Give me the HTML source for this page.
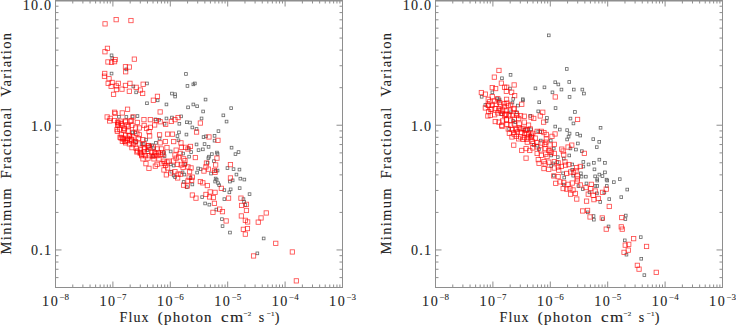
<!DOCTYPE html>
<html><head><meta charset="utf-8"><style>
html,body{margin:0;padding:0;background:#fff;}
svg{display:block;}
.tl{font-family:"Liberation Serif",serif;font-size:14.1px;fill:#222;stroke:#222;stroke-width:0.08px;}
.sp{font-size:9px;letter-spacing:0.3px;}
.tt{font-family:"Liberation Serif",serif;font-size:14px;fill:#222;letter-spacing:1.1px;stroke:#222;stroke-width:0.12px;}
.yt text{font-size:14.6px;letter-spacing:1.3px;stroke-width:0.1px;}
.yl{letter-spacing:1.2px;}
.sp2{font-size:7px;letter-spacing:0;}
</style></head><body>
<svg width="736" height="325" viewBox="0 0 736 325">
<rect x="55.5" y="0.5" width="287.0" height="287.0" fill="none" stroke="#8e8e8e" stroke-width="1"/>
<line x1="55.5" y1="0.7" x2="342.5" y2="0.7" stroke="#8e8e8e" stroke-width="1.4"/>
<line x1="55.50" y1="287.5" x2="55.50" y2="281.5" stroke="#8e8e8e"/>
<line x1="55.50" y1="0.5" x2="55.50" y2="6.5" stroke="#8e8e8e"/>
<line x1="72.78" y1="287.5" x2="72.78" y2="284.5" stroke="#8e8e8e"/>
<line x1="72.78" y1="0.5" x2="72.78" y2="3.5" stroke="#8e8e8e"/>
<line x1="82.89" y1="287.5" x2="82.89" y2="284.5" stroke="#8e8e8e"/>
<line x1="82.89" y1="0.5" x2="82.89" y2="3.5" stroke="#8e8e8e"/>
<line x1="90.06" y1="287.5" x2="90.06" y2="284.5" stroke="#8e8e8e"/>
<line x1="90.06" y1="0.5" x2="90.06" y2="3.5" stroke="#8e8e8e"/>
<line x1="95.62" y1="287.5" x2="95.62" y2="284.5" stroke="#8e8e8e"/>
<line x1="95.62" y1="0.5" x2="95.62" y2="3.5" stroke="#8e8e8e"/>
<line x1="100.17" y1="287.5" x2="100.17" y2="284.5" stroke="#8e8e8e"/>
<line x1="100.17" y1="0.5" x2="100.17" y2="3.5" stroke="#8e8e8e"/>
<line x1="104.01" y1="287.5" x2="104.01" y2="284.5" stroke="#8e8e8e"/>
<line x1="104.01" y1="0.5" x2="104.01" y2="3.5" stroke="#8e8e8e"/>
<line x1="107.34" y1="287.5" x2="107.34" y2="284.5" stroke="#8e8e8e"/>
<line x1="107.34" y1="0.5" x2="107.34" y2="3.5" stroke="#8e8e8e"/>
<line x1="110.27" y1="287.5" x2="110.27" y2="284.5" stroke="#8e8e8e"/>
<line x1="110.27" y1="0.5" x2="110.27" y2="3.5" stroke="#8e8e8e"/>
<line x1="112.90" y1="287.5" x2="112.90" y2="281.5" stroke="#8e8e8e"/>
<line x1="112.90" y1="0.5" x2="112.90" y2="6.5" stroke="#8e8e8e"/>
<line x1="130.18" y1="287.5" x2="130.18" y2="284.5" stroke="#8e8e8e"/>
<line x1="130.18" y1="0.5" x2="130.18" y2="3.5" stroke="#8e8e8e"/>
<line x1="140.29" y1="287.5" x2="140.29" y2="284.5" stroke="#8e8e8e"/>
<line x1="140.29" y1="0.5" x2="140.29" y2="3.5" stroke="#8e8e8e"/>
<line x1="147.46" y1="287.5" x2="147.46" y2="284.5" stroke="#8e8e8e"/>
<line x1="147.46" y1="0.5" x2="147.46" y2="3.5" stroke="#8e8e8e"/>
<line x1="153.02" y1="287.5" x2="153.02" y2="284.5" stroke="#8e8e8e"/>
<line x1="153.02" y1="0.5" x2="153.02" y2="3.5" stroke="#8e8e8e"/>
<line x1="157.57" y1="287.5" x2="157.57" y2="284.5" stroke="#8e8e8e"/>
<line x1="157.57" y1="0.5" x2="157.57" y2="3.5" stroke="#8e8e8e"/>
<line x1="161.41" y1="287.5" x2="161.41" y2="284.5" stroke="#8e8e8e"/>
<line x1="161.41" y1="0.5" x2="161.41" y2="3.5" stroke="#8e8e8e"/>
<line x1="164.74" y1="287.5" x2="164.74" y2="284.5" stroke="#8e8e8e"/>
<line x1="164.74" y1="0.5" x2="164.74" y2="3.5" stroke="#8e8e8e"/>
<line x1="167.67" y1="287.5" x2="167.67" y2="284.5" stroke="#8e8e8e"/>
<line x1="167.67" y1="0.5" x2="167.67" y2="3.5" stroke="#8e8e8e"/>
<line x1="170.30" y1="287.5" x2="170.30" y2="281.5" stroke="#8e8e8e"/>
<line x1="170.30" y1="0.5" x2="170.30" y2="6.5" stroke="#8e8e8e"/>
<line x1="187.58" y1="287.5" x2="187.58" y2="284.5" stroke="#8e8e8e"/>
<line x1="187.58" y1="0.5" x2="187.58" y2="3.5" stroke="#8e8e8e"/>
<line x1="197.69" y1="287.5" x2="197.69" y2="284.5" stroke="#8e8e8e"/>
<line x1="197.69" y1="0.5" x2="197.69" y2="3.5" stroke="#8e8e8e"/>
<line x1="204.86" y1="287.5" x2="204.86" y2="284.5" stroke="#8e8e8e"/>
<line x1="204.86" y1="0.5" x2="204.86" y2="3.5" stroke="#8e8e8e"/>
<line x1="210.42" y1="287.5" x2="210.42" y2="284.5" stroke="#8e8e8e"/>
<line x1="210.42" y1="0.5" x2="210.42" y2="3.5" stroke="#8e8e8e"/>
<line x1="214.97" y1="287.5" x2="214.97" y2="284.5" stroke="#8e8e8e"/>
<line x1="214.97" y1="0.5" x2="214.97" y2="3.5" stroke="#8e8e8e"/>
<line x1="218.81" y1="287.5" x2="218.81" y2="284.5" stroke="#8e8e8e"/>
<line x1="218.81" y1="0.5" x2="218.81" y2="3.5" stroke="#8e8e8e"/>
<line x1="222.14" y1="287.5" x2="222.14" y2="284.5" stroke="#8e8e8e"/>
<line x1="222.14" y1="0.5" x2="222.14" y2="3.5" stroke="#8e8e8e"/>
<line x1="225.07" y1="287.5" x2="225.07" y2="284.5" stroke="#8e8e8e"/>
<line x1="225.07" y1="0.5" x2="225.07" y2="3.5" stroke="#8e8e8e"/>
<line x1="227.70" y1="287.5" x2="227.70" y2="281.5" stroke="#8e8e8e"/>
<line x1="227.70" y1="0.5" x2="227.70" y2="6.5" stroke="#8e8e8e"/>
<line x1="244.98" y1="287.5" x2="244.98" y2="284.5" stroke="#8e8e8e"/>
<line x1="244.98" y1="0.5" x2="244.98" y2="3.5" stroke="#8e8e8e"/>
<line x1="255.09" y1="287.5" x2="255.09" y2="284.5" stroke="#8e8e8e"/>
<line x1="255.09" y1="0.5" x2="255.09" y2="3.5" stroke="#8e8e8e"/>
<line x1="262.26" y1="287.5" x2="262.26" y2="284.5" stroke="#8e8e8e"/>
<line x1="262.26" y1="0.5" x2="262.26" y2="3.5" stroke="#8e8e8e"/>
<line x1="267.82" y1="287.5" x2="267.82" y2="284.5" stroke="#8e8e8e"/>
<line x1="267.82" y1="0.5" x2="267.82" y2="3.5" stroke="#8e8e8e"/>
<line x1="272.37" y1="287.5" x2="272.37" y2="284.5" stroke="#8e8e8e"/>
<line x1="272.37" y1="0.5" x2="272.37" y2="3.5" stroke="#8e8e8e"/>
<line x1="276.21" y1="287.5" x2="276.21" y2="284.5" stroke="#8e8e8e"/>
<line x1="276.21" y1="0.5" x2="276.21" y2="3.5" stroke="#8e8e8e"/>
<line x1="279.54" y1="287.5" x2="279.54" y2="284.5" stroke="#8e8e8e"/>
<line x1="279.54" y1="0.5" x2="279.54" y2="3.5" stroke="#8e8e8e"/>
<line x1="282.47" y1="287.5" x2="282.47" y2="284.5" stroke="#8e8e8e"/>
<line x1="282.47" y1="0.5" x2="282.47" y2="3.5" stroke="#8e8e8e"/>
<line x1="285.10" y1="287.5" x2="285.10" y2="281.5" stroke="#8e8e8e"/>
<line x1="285.10" y1="0.5" x2="285.10" y2="6.5" stroke="#8e8e8e"/>
<line x1="302.38" y1="287.5" x2="302.38" y2="284.5" stroke="#8e8e8e"/>
<line x1="302.38" y1="0.5" x2="302.38" y2="3.5" stroke="#8e8e8e"/>
<line x1="312.49" y1="287.5" x2="312.49" y2="284.5" stroke="#8e8e8e"/>
<line x1="312.49" y1="0.5" x2="312.49" y2="3.5" stroke="#8e8e8e"/>
<line x1="319.66" y1="287.5" x2="319.66" y2="284.5" stroke="#8e8e8e"/>
<line x1="319.66" y1="0.5" x2="319.66" y2="3.5" stroke="#8e8e8e"/>
<line x1="325.22" y1="287.5" x2="325.22" y2="284.5" stroke="#8e8e8e"/>
<line x1="325.22" y1="0.5" x2="325.22" y2="3.5" stroke="#8e8e8e"/>
<line x1="329.77" y1="287.5" x2="329.77" y2="284.5" stroke="#8e8e8e"/>
<line x1="329.77" y1="0.5" x2="329.77" y2="3.5" stroke="#8e8e8e"/>
<line x1="333.61" y1="287.5" x2="333.61" y2="284.5" stroke="#8e8e8e"/>
<line x1="333.61" y1="0.5" x2="333.61" y2="3.5" stroke="#8e8e8e"/>
<line x1="336.94" y1="287.5" x2="336.94" y2="284.5" stroke="#8e8e8e"/>
<line x1="336.94" y1="0.5" x2="336.94" y2="3.5" stroke="#8e8e8e"/>
<line x1="339.87" y1="287.5" x2="339.87" y2="284.5" stroke="#8e8e8e"/>
<line x1="339.87" y1="0.5" x2="339.87" y2="3.5" stroke="#8e8e8e"/>
<line x1="55.5" y1="287.50" x2="58.5" y2="287.50" stroke="#8e8e8e"/>
<line x1="342.5" y1="287.50" x2="339.5" y2="287.50" stroke="#8e8e8e"/>
<line x1="55.5" y1="277.62" x2="58.5" y2="277.62" stroke="#8e8e8e"/>
<line x1="342.5" y1="277.62" x2="339.5" y2="277.62" stroke="#8e8e8e"/>
<line x1="55.5" y1="269.27" x2="58.5" y2="269.27" stroke="#8e8e8e"/>
<line x1="342.5" y1="269.27" x2="339.5" y2="269.27" stroke="#8e8e8e"/>
<line x1="55.5" y1="262.04" x2="58.5" y2="262.04" stroke="#8e8e8e"/>
<line x1="342.5" y1="262.04" x2="339.5" y2="262.04" stroke="#8e8e8e"/>
<line x1="55.5" y1="255.66" x2="58.5" y2="255.66" stroke="#8e8e8e"/>
<line x1="342.5" y1="255.66" x2="339.5" y2="255.66" stroke="#8e8e8e"/>
<line x1="55.5" y1="249.95" x2="61.5" y2="249.95" stroke="#8e8e8e"/>
<line x1="342.5" y1="249.95" x2="336.5" y2="249.95" stroke="#8e8e8e"/>
<line x1="55.5" y1="212.41" x2="58.5" y2="212.41" stroke="#8e8e8e"/>
<line x1="342.5" y1="212.41" x2="339.5" y2="212.41" stroke="#8e8e8e"/>
<line x1="55.5" y1="190.44" x2="58.5" y2="190.44" stroke="#8e8e8e"/>
<line x1="342.5" y1="190.44" x2="339.5" y2="190.44" stroke="#8e8e8e"/>
<line x1="55.5" y1="174.86" x2="58.5" y2="174.86" stroke="#8e8e8e"/>
<line x1="342.5" y1="174.86" x2="339.5" y2="174.86" stroke="#8e8e8e"/>
<line x1="55.5" y1="162.77" x2="58.5" y2="162.77" stroke="#8e8e8e"/>
<line x1="342.5" y1="162.77" x2="339.5" y2="162.77" stroke="#8e8e8e"/>
<line x1="55.5" y1="152.90" x2="58.5" y2="152.90" stroke="#8e8e8e"/>
<line x1="342.5" y1="152.90" x2="339.5" y2="152.90" stroke="#8e8e8e"/>
<line x1="55.5" y1="144.55" x2="58.5" y2="144.55" stroke="#8e8e8e"/>
<line x1="342.5" y1="144.55" x2="339.5" y2="144.55" stroke="#8e8e8e"/>
<line x1="55.5" y1="137.31" x2="58.5" y2="137.31" stroke="#8e8e8e"/>
<line x1="342.5" y1="137.31" x2="339.5" y2="137.31" stroke="#8e8e8e"/>
<line x1="55.5" y1="130.93" x2="58.5" y2="130.93" stroke="#8e8e8e"/>
<line x1="342.5" y1="130.93" x2="339.5" y2="130.93" stroke="#8e8e8e"/>
<line x1="55.5" y1="125.23" x2="61.5" y2="125.23" stroke="#8e8e8e"/>
<line x1="342.5" y1="125.23" x2="336.5" y2="125.23" stroke="#8e8e8e"/>
<line x1="55.5" y1="87.68" x2="58.5" y2="87.68" stroke="#8e8e8e"/>
<line x1="342.5" y1="87.68" x2="339.5" y2="87.68" stroke="#8e8e8e"/>
<line x1="55.5" y1="65.72" x2="58.5" y2="65.72" stroke="#8e8e8e"/>
<line x1="342.5" y1="65.72" x2="339.5" y2="65.72" stroke="#8e8e8e"/>
<line x1="55.5" y1="50.13" x2="58.5" y2="50.13" stroke="#8e8e8e"/>
<line x1="342.5" y1="50.13" x2="339.5" y2="50.13" stroke="#8e8e8e"/>
<line x1="55.5" y1="38.05" x2="58.5" y2="38.05" stroke="#8e8e8e"/>
<line x1="342.5" y1="38.05" x2="339.5" y2="38.05" stroke="#8e8e8e"/>
<line x1="55.5" y1="28.17" x2="58.5" y2="28.17" stroke="#8e8e8e"/>
<line x1="342.5" y1="28.17" x2="339.5" y2="28.17" stroke="#8e8e8e"/>
<line x1="55.5" y1="19.82" x2="58.5" y2="19.82" stroke="#8e8e8e"/>
<line x1="342.5" y1="19.82" x2="339.5" y2="19.82" stroke="#8e8e8e"/>
<line x1="55.5" y1="12.59" x2="58.5" y2="12.59" stroke="#8e8e8e"/>
<line x1="342.5" y1="12.59" x2="339.5" y2="12.59" stroke="#8e8e8e"/>
<line x1="55.5" y1="6.21" x2="58.5" y2="6.21" stroke="#8e8e8e"/>
<line x1="342.5" y1="6.21" x2="339.5" y2="6.21" stroke="#8e8e8e"/>
<line x1="55.5" y1="0.50" x2="61.5" y2="0.50" stroke="#8e8e8e"/>
<line x1="342.5" y1="0.50" x2="336.5" y2="0.50" stroke="#8e8e8e"/>
<text x="42.1" y="305.8" class="tl"><tspan letter-spacing="1.5">10</tspan><tspan class="sp" dy="-6">&#8722;8</tspan></text>
<text x="99.5" y="305.8" class="tl"><tspan letter-spacing="1.5">10</tspan><tspan class="sp" dy="-6">&#8722;7</tspan></text>
<text x="156.9" y="305.8" class="tl"><tspan letter-spacing="1.5">10</tspan><tspan class="sp" dy="-6">&#8722;6</tspan></text>
<text x="214.3" y="305.8" class="tl"><tspan letter-spacing="1.5">10</tspan><tspan class="sp" dy="-6">&#8722;5</tspan></text>
<text x="271.7" y="305.8" class="tl"><tspan letter-spacing="1.5">10</tspan><tspan class="sp" dy="-6">&#8722;4</tspan></text>
<text x="329.1" y="305.8" class="tl"><tspan letter-spacing="1.5">10</tspan><tspan class="sp" dy="-6">&#8722;3</tspan></text>
<text x="52.2" y="10.0" class="tl yl" text-anchor="end">10.0</text>
<text x="52.2" y="130.6" class="tl yl" text-anchor="end">1.0</text>
<text x="52.2" y="255.4" class="tl yl" text-anchor="end">0.1</text>
<g class="tt"><text x="119.5" y="322">Flux</text><text x="157.8" y="322" textLength="55" lengthAdjust="spacingAndGlyphs">(photon</text><text x="221.1" y="322" textLength="23.5" lengthAdjust="spacingAndGlyphs">cm</text><text class="sp2" x="243.8" y="316.3">&#8722;2</text><text x="258.8" y="322">s</text><text class="sp2" x="267.0" y="316.3">&#8722;1</text><text x="274.8" y="322">)</text></g>
<g transform="translate(10.5,254.5) rotate(-90)" class="tt yt"><text x="0">Minimum</text><text x="76">Fractional</text><text x="157.7">Variation</text></g>
<g fill="none" stroke="#666" stroke-width="0.8"><rect x="110.2" y="54.0" width="2.7" height="2.7"/><rect x="110.9" y="56.9" width="2.7" height="2.7"/><rect x="125.0" y="68.0" width="2.7" height="2.7"/><rect x="110.2" y="72.2" width="2.7" height="2.7"/><rect x="184.6" y="72.6" width="2.7" height="2.7"/><rect x="145.6" y="82.1" width="2.7" height="2.7"/><rect x="132.0" y="85.1" width="2.7" height="2.7"/><rect x="134.8" y="91.0" width="2.7" height="2.7"/><rect x="156.3" y="99.0" width="2.7" height="2.7"/><rect x="145.6" y="101.9" width="2.7" height="2.7"/><rect x="165.1" y="103.1" width="2.7" height="2.7"/><rect x="170.6" y="92.2" width="2.7" height="2.7"/><rect x="173.7" y="92.9" width="2.7" height="2.7"/><rect x="173.8" y="95.2" width="2.7" height="2.7"/><rect x="117.6" y="115.4" width="2.7" height="2.7"/><rect x="125.0" y="115.6" width="2.7" height="2.7"/><rect x="131.2" y="115.2" width="2.7" height="2.7"/><rect x="136.1" y="114.7" width="2.7" height="2.7"/><rect x="154.0" y="118.1" width="2.7" height="2.7"/><rect x="157.7" y="118.4" width="2.7" height="2.7"/><rect x="165.1" y="117.1" width="2.7" height="2.7"/><rect x="170.6" y="116.2" width="2.7" height="2.7"/><rect x="186.1" y="84.6" width="2.7" height="2.7"/><rect x="192.0" y="83.0" width="2.7" height="2.7"/><rect x="193.5" y="82.1" width="2.7" height="2.7"/><rect x="204.2" y="98.2" width="2.7" height="2.7"/><rect x="192.0" y="103.1" width="2.7" height="2.7"/><rect x="195.8" y="104.9" width="2.7" height="2.7"/><rect x="186.7" y="106.0" width="2.7" height="2.7"/><rect x="201.8" y="110.1" width="2.7" height="2.7"/><rect x="229.8" y="106.8" width="2.7" height="2.7"/><rect x="222.0" y="114.0" width="2.7" height="2.7"/><rect x="200.2" y="117.1" width="2.7" height="2.7"/><rect x="179.8" y="115.0" width="2.7" height="2.7"/><rect x="163.2" y="122.4" width="2.7" height="2.7"/><rect x="178.0" y="122.4" width="2.7" height="2.7"/><rect x="131.2" y="131.0" width="2.7" height="2.7"/><rect x="133.7" y="131.0" width="2.7" height="2.7"/><rect x="144.7" y="138.3" width="2.7" height="2.7"/><rect x="158.2" y="137.2" width="2.7" height="2.7"/><rect x="154.6" y="141.5" width="2.7" height="2.7"/><rect x="150.8" y="143.8" width="2.7" height="2.7"/><rect x="149.0" y="144.6" width="2.7" height="2.7"/><rect x="134.8" y="140.8" width="2.7" height="2.7"/><rect x="140.3" y="142.7" width="2.7" height="2.7"/><rect x="142.2" y="142.7" width="2.7" height="2.7"/><rect x="146.0" y="148.8" width="2.7" height="2.7"/><rect x="152.7" y="147.0" width="2.7" height="2.7"/><rect x="162.6" y="151.0" width="2.7" height="2.7"/><rect x="169.3" y="150.1" width="2.7" height="2.7"/><rect x="163.2" y="154.7" width="2.7" height="2.7"/><rect x="151.5" y="154.7" width="2.7" height="2.7"/><rect x="176.1" y="134.7" width="2.7" height="2.7"/><rect x="177.1" y="139.0" width="2.7" height="2.7"/><rect x="177.6" y="131.0" width="2.7" height="2.7"/><rect x="185.5" y="120.9" width="2.7" height="2.7"/><rect x="188.6" y="121.2" width="2.7" height="2.7"/><rect x="225.2" y="120.2" width="2.7" height="2.7"/><rect x="191.0" y="126.1" width="2.7" height="2.7"/><rect x="195.2" y="127.6" width="2.7" height="2.7"/><rect x="185.1" y="133.2" width="2.7" height="2.7"/><rect x="217.1" y="129.8" width="2.7" height="2.7"/><rect x="202.2" y="135.7" width="2.7" height="2.7"/><rect x="204.6" y="135.0" width="2.7" height="2.7"/><rect x="213.2" y="134.5" width="2.7" height="2.7"/><rect x="213.2" y="139.3" width="2.7" height="2.7"/><rect x="195.2" y="143.1" width="2.7" height="2.7"/><rect x="203.2" y="142.7" width="2.7" height="2.7"/><rect x="207.2" y="145.5" width="2.7" height="2.7"/><rect x="201.5" y="148.0" width="2.7" height="2.7"/><rect x="197.2" y="148.8" width="2.7" height="2.7"/><rect x="187.2" y="147.0" width="2.7" height="2.7"/><rect x="189.8" y="150.7" width="2.7" height="2.7"/><rect x="181.8" y="152.2" width="2.7" height="2.7"/><rect x="187.8" y="155.3" width="2.7" height="2.7"/><rect x="210.5" y="152.8" width="2.7" height="2.7"/><rect x="207.6" y="155.3" width="2.7" height="2.7"/><rect x="207.0" y="156.8" width="2.7" height="2.7"/><rect x="215.6" y="151.2" width="2.7" height="2.7"/><rect x="216.2" y="152.6" width="2.7" height="2.7"/><rect x="230.2" y="146.3" width="2.7" height="2.7"/><rect x="234.1" y="152.8" width="2.7" height="2.7"/><rect x="237.2" y="150.7" width="2.7" height="2.7"/><rect x="169.3" y="163.0" width="2.7" height="2.7"/><rect x="172.3" y="164.2" width="2.7" height="2.7"/><rect x="170.0" y="170.3" width="2.7" height="2.7"/><rect x="172.3" y="174.1" width="2.7" height="2.7"/><rect x="173.7" y="175.8" width="2.7" height="2.7"/><rect x="212.6" y="159.8" width="2.7" height="2.7"/><rect x="206.3" y="161.3" width="2.7" height="2.7"/><rect x="184.2" y="163.0" width="2.7" height="2.7"/><rect x="196.8" y="167.1" width="2.7" height="2.7"/><rect x="199.3" y="167.8" width="2.7" height="2.7"/><rect x="195.8" y="171.2" width="2.7" height="2.7"/><rect x="181.2" y="171.0" width="2.7" height="2.7"/><rect x="183.0" y="173.2" width="2.7" height="2.7"/><rect x="209.7" y="172.2" width="2.7" height="2.7"/><rect x="214.3" y="169.5" width="2.7" height="2.7"/><rect x="216.2" y="169.2" width="2.7" height="2.7"/><rect x="226.1" y="166.7" width="2.7" height="2.7"/><rect x="232.2" y="167.8" width="2.7" height="2.7"/><rect x="238.1" y="168.2" width="2.7" height="2.7"/><rect x="235.1" y="173.2" width="2.7" height="2.7"/><rect x="239.0" y="177.3" width="2.7" height="2.7"/><rect x="243.0" y="178.2" width="2.7" height="2.7"/><rect x="228.6" y="180.2" width="2.7" height="2.7"/><rect x="231.3" y="179.0" width="2.7" height="2.7"/><rect x="214.3" y="177.2" width="2.7" height="2.7"/><rect x="215.3" y="178.3" width="2.7" height="2.7"/><rect x="213.8" y="180.2" width="2.7" height="2.7"/><rect x="216.8" y="181.8" width="2.7" height="2.7"/><rect x="217.8" y="183.8" width="2.7" height="2.7"/><rect x="189.2" y="176.6" width="2.7" height="2.7"/><rect x="182.3" y="180.6" width="2.7" height="2.7"/><rect x="191.0" y="183.1" width="2.7" height="2.7"/><rect x="185.5" y="185.8" width="2.7" height="2.7"/><rect x="223.0" y="188.8" width="2.7" height="2.7"/><rect x="229.3" y="188.0" width="2.7" height="2.7"/><rect x="228.0" y="191.0" width="2.7" height="2.7"/><rect x="238.3" y="186.8" width="2.7" height="2.7"/><rect x="248.2" y="192.8" width="2.7" height="2.7"/><rect x="200.8" y="195.8" width="2.7" height="2.7"/><rect x="223.0" y="197.8" width="2.7" height="2.7"/><rect x="242.1" y="197.8" width="2.7" height="2.7"/><rect x="203.8" y="202.1" width="2.7" height="2.7"/><rect x="208.0" y="203.3" width="2.7" height="2.7"/><rect x="215.0" y="208.2" width="2.7" height="2.7"/><rect x="242.7" y="200.5" width="2.7" height="2.7"/><rect x="244.0" y="203.6" width="2.7" height="2.7"/><rect x="220.6" y="217.8" width="2.7" height="2.7"/><rect x="221.2" y="224.8" width="2.7" height="2.7"/><rect x="228.6" y="231.2" width="2.7" height="2.7"/><rect x="262.3" y="237.1" width="2.7" height="2.7"/><rect x="256.0" y="252.0" width="2.7" height="2.7"/></g>
<g fill="none" stroke="#ff0000" stroke-opacity="0.7" stroke-width="0.85"><rect x="102.9" y="21.7" width="4.3" height="4.3"/><rect x="114.0" y="17.5" width="4.3" height="4.3"/><rect x="128.8" y="18.4" width="4.3" height="4.3"/><rect x="105.3" y="46.2" width="4.3" height="4.3"/><rect x="102.8" y="49.6" width="4.3" height="4.3"/><rect x="105.8" y="59.8" width="4.3" height="4.3"/><rect x="109.4" y="60.2" width="4.3" height="4.3"/><rect x="113.0" y="57.4" width="4.3" height="4.3"/><rect x="112.4" y="59.5" width="4.3" height="4.3"/><rect x="132.2" y="57.0" width="4.3" height="4.3"/><rect x="123.3" y="64.6" width="4.3" height="4.3"/><rect x="127.2" y="64.9" width="4.3" height="4.3"/><rect x="123.5" y="69.6" width="4.3" height="4.3"/><rect x="102.6" y="71.3" width="4.3" height="4.3"/><rect x="102.3" y="74.1" width="4.3" height="4.3"/><rect x="106.9" y="76.6" width="4.3" height="4.3"/><rect x="106.0" y="81.2" width="4.3" height="4.3"/><rect x="110.0" y="80.3" width="4.3" height="4.3"/><rect x="116.1" y="81.2" width="4.3" height="4.3"/><rect x="109.0" y="84.2" width="4.3" height="4.3"/><rect x="114.3" y="83.8" width="4.3" height="4.3"/><rect x="114.3" y="87.4" width="4.3" height="4.3"/><rect x="119.8" y="87.0" width="4.3" height="4.3"/><rect x="123.3" y="83.3" width="4.3" height="4.3"/><rect x="127.8" y="81.2" width="4.3" height="4.3"/><rect x="134.0" y="85.2" width="4.3" height="4.3"/><rect x="141.0" y="82.1" width="4.3" height="4.3"/><rect x="138.3" y="87.9" width="4.3" height="4.3"/><rect x="140.5" y="91.3" width="4.3" height="4.3"/><rect x="127.2" y="89.1" width="4.3" height="4.3"/><rect x="111.4" y="92.2" width="4.3" height="4.3"/><rect x="151.2" y="98.1" width="4.3" height="4.3"/><rect x="155.3" y="94.2" width="4.3" height="4.3"/><rect x="158.0" y="109.8" width="4.3" height="4.3"/><rect x="125.4" y="107.1" width="4.3" height="4.3"/><rect x="120.1" y="110.8" width="4.3" height="4.3"/><rect x="112.4" y="110.1" width="4.3" height="4.3"/><rect x="113.0" y="111.3" width="4.3" height="4.3"/><rect x="105.0" y="114.8" width="4.3" height="4.3"/><rect x="108.1" y="116.2" width="4.3" height="4.3"/><rect x="130.9" y="114.8" width="4.3" height="4.3"/><rect x="141.8" y="117.5" width="4.3" height="4.3"/><rect x="148.2" y="117.5" width="4.3" height="4.3"/><rect x="175.9" y="115.4" width="4.3" height="4.3"/><rect x="172.8" y="117.5" width="4.3" height="4.3"/><rect x="107.5" y="118.8" width="4.3" height="4.3"/><rect x="112.4" y="118.4" width="4.3" height="4.3"/><rect x="118.0" y="119.0" width="4.3" height="4.3"/><rect x="123.5" y="118.8" width="4.3" height="4.3"/><rect x="129.2" y="118.4" width="4.3" height="4.3"/><rect x="135.2" y="120.3" width="4.3" height="4.3"/><rect x="154.3" y="118.4" width="4.3" height="4.3"/><rect x="158.0" y="119.6" width="4.3" height="4.3"/><rect x="163.5" y="122.1" width="4.3" height="4.3"/><rect x="169.2" y="119.3" width="4.3" height="4.3"/><rect x="115.5" y="122.8" width="4.3" height="4.3"/><rect x="119.8" y="123.3" width="4.3" height="4.3"/><rect x="124.8" y="122.8" width="4.3" height="4.3"/><rect x="129.8" y="123.3" width="4.3" height="4.3"/><rect x="133.4" y="125.8" width="4.3" height="4.3"/><rect x="137.2" y="125.8" width="4.3" height="4.3"/><rect x="142.0" y="123.3" width="4.3" height="4.3"/><rect x="144.5" y="126.2" width="4.3" height="4.3"/><rect x="148.2" y="125.2" width="4.3" height="4.3"/><rect x="152.5" y="122.8" width="4.3" height="4.3"/><rect x="117.4" y="127.0" width="4.3" height="4.3"/><rect x="121.8" y="128.3" width="4.3" height="4.3"/><rect x="126.0" y="128.9" width="4.3" height="4.3"/><rect x="130.3" y="130.2" width="4.3" height="4.3"/><rect x="134.7" y="131.3" width="4.3" height="4.3"/><rect x="137.2" y="132.7" width="4.3" height="4.3"/><rect x="146.9" y="129.5" width="4.3" height="4.3"/><rect x="147.5" y="133.8" width="4.3" height="4.3"/><rect x="157.4" y="132.7" width="4.3" height="4.3"/><rect x="165.4" y="132.0" width="4.3" height="4.3"/><rect x="170.3" y="132.0" width="4.3" height="4.3"/><rect x="119.2" y="132.7" width="4.3" height="4.3"/><rect x="123.5" y="133.2" width="4.3" height="4.3"/><rect x="127.2" y="133.8" width="4.3" height="4.3"/><rect x="130.9" y="135.0" width="4.3" height="4.3"/><rect x="136.4" y="136.3" width="4.3" height="4.3"/><rect x="140.8" y="137.5" width="4.3" height="4.3"/><rect x="121.1" y="136.9" width="4.3" height="4.3"/><rect x="125.4" y="138.2" width="4.3" height="4.3"/><rect x="129.2" y="138.8" width="4.3" height="4.3"/><rect x="133.4" y="139.4" width="4.3" height="4.3"/><rect x="123.5" y="140.7" width="4.3" height="4.3"/><rect x="127.2" y="141.8" width="4.3" height="4.3"/><rect x="130.9" y="142.4" width="4.3" height="4.3"/><rect x="137.2" y="141.8" width="4.3" height="4.3"/><rect x="142.0" y="141.8" width="4.3" height="4.3"/><rect x="145.8" y="143.8" width="4.3" height="4.3"/><rect x="158.0" y="140.7" width="4.3" height="4.3"/><rect x="163.2" y="139.4" width="4.3" height="4.3"/><rect x="171.5" y="139.4" width="4.3" height="4.3"/><rect x="129.8" y="145.5" width="4.3" height="4.3"/><rect x="134.0" y="146.2" width="4.3" height="4.3"/><rect x="138.3" y="147.4" width="4.3" height="4.3"/><rect x="142.0" y="146.8" width="4.3" height="4.3"/><rect x="146.9" y="145.5" width="4.3" height="4.3"/><rect x="151.2" y="144.9" width="4.3" height="4.3"/><rect x="154.9" y="146.8" width="4.3" height="4.3"/><rect x="159.2" y="146.8" width="4.3" height="4.3"/><rect x="164.8" y="145.5" width="4.3" height="4.3"/><rect x="134.7" y="149.8" width="4.3" height="4.3"/><rect x="138.3" y="150.4" width="4.3" height="4.3"/><rect x="142.0" y="149.8" width="4.3" height="4.3"/><rect x="145.8" y="149.2" width="4.3" height="4.3"/><rect x="149.4" y="150.4" width="4.3" height="4.3"/><rect x="152.5" y="150.4" width="4.3" height="4.3"/><rect x="156.2" y="150.4" width="4.3" height="4.3"/><rect x="160.5" y="150.4" width="4.3" height="4.3"/><rect x="174.0" y="148.0" width="4.3" height="4.3"/><rect x="139.5" y="153.5" width="4.3" height="4.3"/><rect x="143.2" y="153.5" width="4.3" height="4.3"/><rect x="146.9" y="153.5" width="4.3" height="4.3"/><rect x="150.7" y="154.2" width="4.3" height="4.3"/><rect x="154.9" y="153.5" width="4.3" height="4.3"/><rect x="158.0" y="152.9" width="4.3" height="4.3"/><rect x="140.8" y="156.7" width="4.3" height="4.3"/><rect x="145.8" y="156.0" width="4.3" height="4.3"/><rect x="151.8" y="156.7" width="4.3" height="4.3"/><rect x="156.8" y="156.7" width="4.3" height="4.3"/><rect x="172.8" y="152.9" width="4.3" height="4.3"/><rect x="174.0" y="156.0" width="4.3" height="4.3"/><rect x="176.5" y="154.8" width="4.3" height="4.3"/><rect x="198.2" y="120.9" width="4.3" height="4.3"/><rect x="194.4" y="129.9" width="4.3" height="4.3"/><rect x="206.8" y="134.8" width="4.3" height="4.3"/><rect x="215.8" y="138.2" width="4.3" height="4.3"/><rect x="178.8" y="140.7" width="4.3" height="4.3"/><rect x="179.3" y="145.2" width="4.3" height="4.3"/><rect x="183.3" y="145.2" width="4.3" height="4.3"/><rect x="188.3" y="144.3" width="4.3" height="4.3"/><rect x="185.8" y="146.8" width="4.3" height="4.3"/><rect x="178.0" y="151.2" width="4.3" height="4.3"/><rect x="181.5" y="156.7" width="4.3" height="4.3"/><rect x="193.2" y="155.4" width="4.3" height="4.3"/><rect x="214.8" y="156.0" width="4.3" height="4.3"/><rect x="143.8" y="161.5" width="4.3" height="4.3"/><rect x="146.8" y="166.2" width="4.3" height="4.3"/><rect x="153.2" y="164.0" width="4.3" height="4.3"/><rect x="154.9" y="162.2" width="4.3" height="4.3"/><rect x="159.8" y="161.5" width="4.3" height="4.3"/><rect x="163.5" y="163.3" width="4.3" height="4.3"/><rect x="161.8" y="167.8" width="4.3" height="4.3"/><rect x="165.4" y="165.8" width="4.3" height="4.3"/><rect x="164.2" y="172.7" width="4.3" height="4.3"/><rect x="168.5" y="170.8" width="4.3" height="4.3"/><rect x="172.8" y="169.5" width="4.3" height="4.3"/><rect x="175.9" y="172.0" width="4.3" height="4.3"/><rect x="175.5" y="175.8" width="4.3" height="4.3"/><rect x="175.2" y="162.2" width="4.3" height="4.3"/><rect x="171.5" y="158.8" width="4.3" height="4.3"/><rect x="166.7" y="159.0" width="4.3" height="4.3"/><rect x="161.8" y="159.0" width="4.3" height="4.3"/><rect x="182.8" y="158.4" width="4.3" height="4.3"/><rect x="179.0" y="162.8" width="4.3" height="4.3"/><rect x="182.2" y="162.2" width="4.3" height="4.3"/><rect x="180.9" y="165.2" width="4.3" height="4.3"/><rect x="178.4" y="172.0" width="4.3" height="4.3"/><rect x="185.8" y="164.7" width="4.3" height="4.3"/><rect x="188.9" y="165.8" width="4.3" height="4.3"/><rect x="187.4" y="169.5" width="4.3" height="4.3"/><rect x="204.3" y="160.9" width="4.3" height="4.3"/><rect x="203.8" y="164.7" width="4.3" height="4.3"/><rect x="206.2" y="167.0" width="4.3" height="4.3"/><rect x="201.8" y="168.9" width="4.3" height="4.3"/><rect x="213.5" y="162.8" width="4.3" height="4.3"/><rect x="212.3" y="168.3" width="4.3" height="4.3"/><rect x="212.9" y="170.2" width="4.3" height="4.3"/><rect x="228.3" y="162.5" width="4.3" height="4.3"/><rect x="228.3" y="175.8" width="4.3" height="4.3"/><rect x="190.2" y="175.0" width="4.3" height="4.3"/><rect x="187.0" y="175.0" width="4.3" height="4.3"/><rect x="185.8" y="178.8" width="4.3" height="4.3"/><rect x="189.5" y="178.2" width="4.3" height="4.3"/><rect x="198.2" y="179.4" width="4.3" height="4.3"/><rect x="200.7" y="180.7" width="4.3" height="4.3"/><rect x="205.2" y="183.4" width="4.3" height="4.3"/><rect x="181.5" y="183.0" width="4.3" height="4.3"/><rect x="185.2" y="183.8" width="4.3" height="4.3"/><rect x="219.2" y="186.2" width="4.3" height="4.3"/><rect x="190.2" y="192.9" width="4.3" height="4.3"/><rect x="193.8" y="196.0" width="4.3" height="4.3"/><rect x="203.8" y="192.3" width="4.3" height="4.3"/><rect x="208.0" y="189.8" width="4.3" height="4.3"/><rect x="212.9" y="190.2" width="4.3" height="4.3"/><rect x="207.4" y="194.8" width="4.3" height="4.3"/><rect x="211.2" y="195.4" width="4.3" height="4.3"/><rect x="226.4" y="196.0" width="4.3" height="4.3"/><rect x="238.8" y="196.0" width="4.3" height="4.3"/><rect x="212.3" y="201.2" width="4.3" height="4.3"/><rect x="239.4" y="203.3" width="4.3" height="4.3"/><rect x="244.3" y="202.2" width="4.3" height="4.3"/><rect x="244.3" y="208.3" width="4.3" height="4.3"/><rect x="210.8" y="210.2" width="4.3" height="4.3"/><rect x="217.5" y="207.0" width="4.3" height="4.3"/><rect x="220.3" y="209.5" width="4.3" height="4.3"/><rect x="224.0" y="218.8" width="4.3" height="4.3"/><rect x="239.2" y="213.8" width="4.3" height="4.3"/><rect x="243.2" y="218.2" width="4.3" height="4.3"/><rect x="245.5" y="219.8" width="4.3" height="4.3"/><rect x="241.2" y="227.2" width="4.3" height="4.3"/><rect x="245.3" y="226.4" width="4.3" height="4.3"/><rect x="243.2" y="232.0" width="4.3" height="4.3"/><rect x="264.1" y="210.8" width="4.3" height="4.3"/><rect x="258.9" y="215.8" width="4.3" height="4.3"/><rect x="256.1" y="220.0" width="4.3" height="4.3"/><rect x="273.6" y="241.2" width="4.3" height="4.3"/><rect x="251.4" y="253.8" width="4.3" height="4.3"/><rect x="290.2" y="249.8" width="4.3" height="4.3"/><rect x="294.2" y="278.7" width="4.3" height="4.3"/><rect x="118.9" y="121.4" width="4.3" height="4.3"/><rect x="123.4" y="119.8" width="4.3" height="4.3"/><rect x="121.8" y="126.0" width="4.3" height="4.3"/><rect x="115.2" y="129.2" width="4.3" height="4.3"/><rect x="114.9" y="127.5" width="4.3" height="4.3"/><rect x="115.4" y="120.1" width="4.3" height="4.3"/><rect x="120.3" y="136.0" width="4.3" height="4.3"/><rect x="116.1" y="122.9" width="4.3" height="4.3"/><rect x="123.1" y="138.8" width="4.3" height="4.3"/><rect x="122.4" y="126.8" width="4.3" height="4.3"/><rect x="128.0" y="119.1" width="4.3" height="4.3"/><rect x="126.3" y="124.4" width="4.3" height="4.3"/><rect x="116.4" y="120.8" width="4.3" height="4.3"/><rect x="118.8" y="135.8" width="4.3" height="4.3"/><rect x="120.2" y="139.2" width="4.3" height="4.3"/><rect x="128.8" y="136.9" width="4.3" height="4.3"/><rect x="127.0" y="133.5" width="4.3" height="4.3"/><rect x="117.9" y="135.2" width="4.3" height="4.3"/><rect x="129.5" y="137.5" width="4.3" height="4.3"/><rect x="122.8" y="139.2" width="4.3" height="4.3"/><rect x="125.3" y="136.2" width="4.3" height="4.3"/><rect x="131.8" y="140.5" width="4.3" height="4.3"/><rect x="135.4" y="148.8" width="4.3" height="4.3"/><rect x="139.7" y="152.3" width="4.3" height="4.3"/><rect x="142.7" y="145.4" width="4.3" height="4.3"/><rect x="146.3" y="143.4" width="4.3" height="4.3"/><rect x="138.0" y="150.9" width="4.3" height="4.3"/><rect x="153.8" y="151.7" width="4.3" height="4.3"/><rect x="152.5" y="153.2" width="4.3" height="4.3"/><rect x="160.7" y="152.3" width="4.3" height="4.3"/><rect x="164.9" y="159.9" width="4.3" height="4.3"/><rect x="162.2" y="161.2" width="4.3" height="4.3"/></g>
<rect x="435.5" y="0.5" width="287.0" height="287.0" fill="none" stroke="#8e8e8e" stroke-width="1"/>
<line x1="435.5" y1="0.7" x2="722.5" y2="0.7" stroke="#8e8e8e" stroke-width="1.4"/>
<line x1="435.50" y1="287.5" x2="435.50" y2="281.5" stroke="#8e8e8e"/>
<line x1="435.50" y1="0.5" x2="435.50" y2="6.5" stroke="#8e8e8e"/>
<line x1="452.78" y1="287.5" x2="452.78" y2="284.5" stroke="#8e8e8e"/>
<line x1="452.78" y1="0.5" x2="452.78" y2="3.5" stroke="#8e8e8e"/>
<line x1="462.89" y1="287.5" x2="462.89" y2="284.5" stroke="#8e8e8e"/>
<line x1="462.89" y1="0.5" x2="462.89" y2="3.5" stroke="#8e8e8e"/>
<line x1="470.06" y1="287.5" x2="470.06" y2="284.5" stroke="#8e8e8e"/>
<line x1="470.06" y1="0.5" x2="470.06" y2="3.5" stroke="#8e8e8e"/>
<line x1="475.62" y1="287.5" x2="475.62" y2="284.5" stroke="#8e8e8e"/>
<line x1="475.62" y1="0.5" x2="475.62" y2="3.5" stroke="#8e8e8e"/>
<line x1="480.17" y1="287.5" x2="480.17" y2="284.5" stroke="#8e8e8e"/>
<line x1="480.17" y1="0.5" x2="480.17" y2="3.5" stroke="#8e8e8e"/>
<line x1="484.01" y1="287.5" x2="484.01" y2="284.5" stroke="#8e8e8e"/>
<line x1="484.01" y1="0.5" x2="484.01" y2="3.5" stroke="#8e8e8e"/>
<line x1="487.34" y1="287.5" x2="487.34" y2="284.5" stroke="#8e8e8e"/>
<line x1="487.34" y1="0.5" x2="487.34" y2="3.5" stroke="#8e8e8e"/>
<line x1="490.27" y1="287.5" x2="490.27" y2="284.5" stroke="#8e8e8e"/>
<line x1="490.27" y1="0.5" x2="490.27" y2="3.5" stroke="#8e8e8e"/>
<line x1="492.90" y1="287.5" x2="492.90" y2="281.5" stroke="#8e8e8e"/>
<line x1="492.90" y1="0.5" x2="492.90" y2="6.5" stroke="#8e8e8e"/>
<line x1="510.18" y1="287.5" x2="510.18" y2="284.5" stroke="#8e8e8e"/>
<line x1="510.18" y1="0.5" x2="510.18" y2="3.5" stroke="#8e8e8e"/>
<line x1="520.29" y1="287.5" x2="520.29" y2="284.5" stroke="#8e8e8e"/>
<line x1="520.29" y1="0.5" x2="520.29" y2="3.5" stroke="#8e8e8e"/>
<line x1="527.46" y1="287.5" x2="527.46" y2="284.5" stroke="#8e8e8e"/>
<line x1="527.46" y1="0.5" x2="527.46" y2="3.5" stroke="#8e8e8e"/>
<line x1="533.02" y1="287.5" x2="533.02" y2="284.5" stroke="#8e8e8e"/>
<line x1="533.02" y1="0.5" x2="533.02" y2="3.5" stroke="#8e8e8e"/>
<line x1="537.57" y1="287.5" x2="537.57" y2="284.5" stroke="#8e8e8e"/>
<line x1="537.57" y1="0.5" x2="537.57" y2="3.5" stroke="#8e8e8e"/>
<line x1="541.41" y1="287.5" x2="541.41" y2="284.5" stroke="#8e8e8e"/>
<line x1="541.41" y1="0.5" x2="541.41" y2="3.5" stroke="#8e8e8e"/>
<line x1="544.74" y1="287.5" x2="544.74" y2="284.5" stroke="#8e8e8e"/>
<line x1="544.74" y1="0.5" x2="544.74" y2="3.5" stroke="#8e8e8e"/>
<line x1="547.67" y1="287.5" x2="547.67" y2="284.5" stroke="#8e8e8e"/>
<line x1="547.67" y1="0.5" x2="547.67" y2="3.5" stroke="#8e8e8e"/>
<line x1="550.30" y1="287.5" x2="550.30" y2="281.5" stroke="#8e8e8e"/>
<line x1="550.30" y1="0.5" x2="550.30" y2="6.5" stroke="#8e8e8e"/>
<line x1="567.58" y1="287.5" x2="567.58" y2="284.5" stroke="#8e8e8e"/>
<line x1="567.58" y1="0.5" x2="567.58" y2="3.5" stroke="#8e8e8e"/>
<line x1="577.69" y1="287.5" x2="577.69" y2="284.5" stroke="#8e8e8e"/>
<line x1="577.69" y1="0.5" x2="577.69" y2="3.5" stroke="#8e8e8e"/>
<line x1="584.86" y1="287.5" x2="584.86" y2="284.5" stroke="#8e8e8e"/>
<line x1="584.86" y1="0.5" x2="584.86" y2="3.5" stroke="#8e8e8e"/>
<line x1="590.42" y1="287.5" x2="590.42" y2="284.5" stroke="#8e8e8e"/>
<line x1="590.42" y1="0.5" x2="590.42" y2="3.5" stroke="#8e8e8e"/>
<line x1="594.97" y1="287.5" x2="594.97" y2="284.5" stroke="#8e8e8e"/>
<line x1="594.97" y1="0.5" x2="594.97" y2="3.5" stroke="#8e8e8e"/>
<line x1="598.81" y1="287.5" x2="598.81" y2="284.5" stroke="#8e8e8e"/>
<line x1="598.81" y1="0.5" x2="598.81" y2="3.5" stroke="#8e8e8e"/>
<line x1="602.14" y1="287.5" x2="602.14" y2="284.5" stroke="#8e8e8e"/>
<line x1="602.14" y1="0.5" x2="602.14" y2="3.5" stroke="#8e8e8e"/>
<line x1="605.07" y1="287.5" x2="605.07" y2="284.5" stroke="#8e8e8e"/>
<line x1="605.07" y1="0.5" x2="605.07" y2="3.5" stroke="#8e8e8e"/>
<line x1="607.70" y1="287.5" x2="607.70" y2="281.5" stroke="#8e8e8e"/>
<line x1="607.70" y1="0.5" x2="607.70" y2="6.5" stroke="#8e8e8e"/>
<line x1="624.98" y1="287.5" x2="624.98" y2="284.5" stroke="#8e8e8e"/>
<line x1="624.98" y1="0.5" x2="624.98" y2="3.5" stroke="#8e8e8e"/>
<line x1="635.09" y1="287.5" x2="635.09" y2="284.5" stroke="#8e8e8e"/>
<line x1="635.09" y1="0.5" x2="635.09" y2="3.5" stroke="#8e8e8e"/>
<line x1="642.26" y1="287.5" x2="642.26" y2="284.5" stroke="#8e8e8e"/>
<line x1="642.26" y1="0.5" x2="642.26" y2="3.5" stroke="#8e8e8e"/>
<line x1="647.82" y1="287.5" x2="647.82" y2="284.5" stroke="#8e8e8e"/>
<line x1="647.82" y1="0.5" x2="647.82" y2="3.5" stroke="#8e8e8e"/>
<line x1="652.37" y1="287.5" x2="652.37" y2="284.5" stroke="#8e8e8e"/>
<line x1="652.37" y1="0.5" x2="652.37" y2="3.5" stroke="#8e8e8e"/>
<line x1="656.21" y1="287.5" x2="656.21" y2="284.5" stroke="#8e8e8e"/>
<line x1="656.21" y1="0.5" x2="656.21" y2="3.5" stroke="#8e8e8e"/>
<line x1="659.54" y1="287.5" x2="659.54" y2="284.5" stroke="#8e8e8e"/>
<line x1="659.54" y1="0.5" x2="659.54" y2="3.5" stroke="#8e8e8e"/>
<line x1="662.47" y1="287.5" x2="662.47" y2="284.5" stroke="#8e8e8e"/>
<line x1="662.47" y1="0.5" x2="662.47" y2="3.5" stroke="#8e8e8e"/>
<line x1="665.10" y1="287.5" x2="665.10" y2="281.5" stroke="#8e8e8e"/>
<line x1="665.10" y1="0.5" x2="665.10" y2="6.5" stroke="#8e8e8e"/>
<line x1="682.38" y1="287.5" x2="682.38" y2="284.5" stroke="#8e8e8e"/>
<line x1="682.38" y1="0.5" x2="682.38" y2="3.5" stroke="#8e8e8e"/>
<line x1="692.49" y1="287.5" x2="692.49" y2="284.5" stroke="#8e8e8e"/>
<line x1="692.49" y1="0.5" x2="692.49" y2="3.5" stroke="#8e8e8e"/>
<line x1="699.66" y1="287.5" x2="699.66" y2="284.5" stroke="#8e8e8e"/>
<line x1="699.66" y1="0.5" x2="699.66" y2="3.5" stroke="#8e8e8e"/>
<line x1="705.22" y1="287.5" x2="705.22" y2="284.5" stroke="#8e8e8e"/>
<line x1="705.22" y1="0.5" x2="705.22" y2="3.5" stroke="#8e8e8e"/>
<line x1="709.77" y1="287.5" x2="709.77" y2="284.5" stroke="#8e8e8e"/>
<line x1="709.77" y1="0.5" x2="709.77" y2="3.5" stroke="#8e8e8e"/>
<line x1="713.61" y1="287.5" x2="713.61" y2="284.5" stroke="#8e8e8e"/>
<line x1="713.61" y1="0.5" x2="713.61" y2="3.5" stroke="#8e8e8e"/>
<line x1="716.94" y1="287.5" x2="716.94" y2="284.5" stroke="#8e8e8e"/>
<line x1="716.94" y1="0.5" x2="716.94" y2="3.5" stroke="#8e8e8e"/>
<line x1="719.87" y1="287.5" x2="719.87" y2="284.5" stroke="#8e8e8e"/>
<line x1="719.87" y1="0.5" x2="719.87" y2="3.5" stroke="#8e8e8e"/>
<line x1="435.5" y1="287.50" x2="438.5" y2="287.50" stroke="#8e8e8e"/>
<line x1="722.5" y1="287.50" x2="719.5" y2="287.50" stroke="#8e8e8e"/>
<line x1="435.5" y1="277.62" x2="438.5" y2="277.62" stroke="#8e8e8e"/>
<line x1="722.5" y1="277.62" x2="719.5" y2="277.62" stroke="#8e8e8e"/>
<line x1="435.5" y1="269.27" x2="438.5" y2="269.27" stroke="#8e8e8e"/>
<line x1="722.5" y1="269.27" x2="719.5" y2="269.27" stroke="#8e8e8e"/>
<line x1="435.5" y1="262.04" x2="438.5" y2="262.04" stroke="#8e8e8e"/>
<line x1="722.5" y1="262.04" x2="719.5" y2="262.04" stroke="#8e8e8e"/>
<line x1="435.5" y1="255.66" x2="438.5" y2="255.66" stroke="#8e8e8e"/>
<line x1="722.5" y1="255.66" x2="719.5" y2="255.66" stroke="#8e8e8e"/>
<line x1="435.5" y1="249.95" x2="441.5" y2="249.95" stroke="#8e8e8e"/>
<line x1="722.5" y1="249.95" x2="716.5" y2="249.95" stroke="#8e8e8e"/>
<line x1="435.5" y1="212.41" x2="438.5" y2="212.41" stroke="#8e8e8e"/>
<line x1="722.5" y1="212.41" x2="719.5" y2="212.41" stroke="#8e8e8e"/>
<line x1="435.5" y1="190.44" x2="438.5" y2="190.44" stroke="#8e8e8e"/>
<line x1="722.5" y1="190.44" x2="719.5" y2="190.44" stroke="#8e8e8e"/>
<line x1="435.5" y1="174.86" x2="438.5" y2="174.86" stroke="#8e8e8e"/>
<line x1="722.5" y1="174.86" x2="719.5" y2="174.86" stroke="#8e8e8e"/>
<line x1="435.5" y1="162.77" x2="438.5" y2="162.77" stroke="#8e8e8e"/>
<line x1="722.5" y1="162.77" x2="719.5" y2="162.77" stroke="#8e8e8e"/>
<line x1="435.5" y1="152.90" x2="438.5" y2="152.90" stroke="#8e8e8e"/>
<line x1="722.5" y1="152.90" x2="719.5" y2="152.90" stroke="#8e8e8e"/>
<line x1="435.5" y1="144.55" x2="438.5" y2="144.55" stroke="#8e8e8e"/>
<line x1="722.5" y1="144.55" x2="719.5" y2="144.55" stroke="#8e8e8e"/>
<line x1="435.5" y1="137.31" x2="438.5" y2="137.31" stroke="#8e8e8e"/>
<line x1="722.5" y1="137.31" x2="719.5" y2="137.31" stroke="#8e8e8e"/>
<line x1="435.5" y1="130.93" x2="438.5" y2="130.93" stroke="#8e8e8e"/>
<line x1="722.5" y1="130.93" x2="719.5" y2="130.93" stroke="#8e8e8e"/>
<line x1="435.5" y1="125.23" x2="441.5" y2="125.23" stroke="#8e8e8e"/>
<line x1="722.5" y1="125.23" x2="716.5" y2="125.23" stroke="#8e8e8e"/>
<line x1="435.5" y1="87.68" x2="438.5" y2="87.68" stroke="#8e8e8e"/>
<line x1="722.5" y1="87.68" x2="719.5" y2="87.68" stroke="#8e8e8e"/>
<line x1="435.5" y1="65.72" x2="438.5" y2="65.72" stroke="#8e8e8e"/>
<line x1="722.5" y1="65.72" x2="719.5" y2="65.72" stroke="#8e8e8e"/>
<line x1="435.5" y1="50.13" x2="438.5" y2="50.13" stroke="#8e8e8e"/>
<line x1="722.5" y1="50.13" x2="719.5" y2="50.13" stroke="#8e8e8e"/>
<line x1="435.5" y1="38.05" x2="438.5" y2="38.05" stroke="#8e8e8e"/>
<line x1="722.5" y1="38.05" x2="719.5" y2="38.05" stroke="#8e8e8e"/>
<line x1="435.5" y1="28.17" x2="438.5" y2="28.17" stroke="#8e8e8e"/>
<line x1="722.5" y1="28.17" x2="719.5" y2="28.17" stroke="#8e8e8e"/>
<line x1="435.5" y1="19.82" x2="438.5" y2="19.82" stroke="#8e8e8e"/>
<line x1="722.5" y1="19.82" x2="719.5" y2="19.82" stroke="#8e8e8e"/>
<line x1="435.5" y1="12.59" x2="438.5" y2="12.59" stroke="#8e8e8e"/>
<line x1="722.5" y1="12.59" x2="719.5" y2="12.59" stroke="#8e8e8e"/>
<line x1="435.5" y1="6.21" x2="438.5" y2="6.21" stroke="#8e8e8e"/>
<line x1="722.5" y1="6.21" x2="719.5" y2="6.21" stroke="#8e8e8e"/>
<line x1="435.5" y1="0.50" x2="441.5" y2="0.50" stroke="#8e8e8e"/>
<line x1="722.5" y1="0.50" x2="716.5" y2="0.50" stroke="#8e8e8e"/>
<text x="422.1" y="305.8" class="tl"><tspan letter-spacing="1.5">10</tspan><tspan class="sp" dy="-6">&#8722;8</tspan></text>
<text x="479.5" y="305.8" class="tl"><tspan letter-spacing="1.5">10</tspan><tspan class="sp" dy="-6">&#8722;7</tspan></text>
<text x="536.9" y="305.8" class="tl"><tspan letter-spacing="1.5">10</tspan><tspan class="sp" dy="-6">&#8722;6</tspan></text>
<text x="594.3" y="305.8" class="tl"><tspan letter-spacing="1.5">10</tspan><tspan class="sp" dy="-6">&#8722;5</tspan></text>
<text x="651.7" y="305.8" class="tl"><tspan letter-spacing="1.5">10</tspan><tspan class="sp" dy="-6">&#8722;4</tspan></text>
<text x="709.1" y="305.8" class="tl"><tspan letter-spacing="1.5">10</tspan><tspan class="sp" dy="-6">&#8722;3</tspan></text>
<text x="432.2" y="10.0" class="tl yl" text-anchor="end">10.0</text>
<text x="432.2" y="130.6" class="tl yl" text-anchor="end">1.0</text>
<text x="432.2" y="255.4" class="tl yl" text-anchor="end">0.1</text>
<g class="tt"><text x="499.5" y="322">Flux</text><text x="537.8" y="322" textLength="55" lengthAdjust="spacingAndGlyphs">(photon</text><text x="601.1" y="322" textLength="23.5" lengthAdjust="spacingAndGlyphs">cm</text><text class="sp2" x="623.8" y="316.3">&#8722;2</text><text x="638.8" y="322">s</text><text class="sp2" x="647.0" y="316.3">&#8722;1</text><text x="654.8" y="322">)</text></g>
<g transform="translate(390.5,254.5) rotate(-90)" class="tt yt"><text x="0">Minimum</text><text x="76">Fractional</text><text x="157.7">Variation</text></g>
<g fill="none" stroke="#666" stroke-width="0.8"><rect x="547.4" y="34.0" width="2.7" height="2.7"/><rect x="509.2" y="73.5" width="2.7" height="2.7"/><rect x="500.6" y="76.9" width="2.7" height="2.7"/><rect x="491.0" y="91.0" width="2.7" height="2.7"/><rect x="508.6" y="87.2" width="2.7" height="2.7"/><rect x="480.3" y="95.4" width="2.7" height="2.7"/><rect x="495.9" y="97.1" width="2.7" height="2.7"/><rect x="498.2" y="98.1" width="2.7" height="2.7"/><rect x="511.9" y="97.5" width="2.7" height="2.7"/><rect x="521.4" y="97.9" width="2.7" height="2.7"/><rect x="534.1" y="87.0" width="2.7" height="2.7"/><rect x="543.1" y="86.0" width="2.7" height="2.7"/><rect x="551.1" y="91.0" width="2.7" height="2.7"/><rect x="553.9" y="80.9" width="2.7" height="2.7"/><rect x="557.0" y="83.1" width="2.7" height="2.7"/><rect x="565.4" y="67.6" width="2.7" height="2.7"/><rect x="567.9" y="80.6" width="2.7" height="2.7"/><rect x="560.1" y="88.2" width="2.7" height="2.7"/><rect x="572.4" y="88.2" width="2.7" height="2.7"/><rect x="581.0" y="88.2" width="2.7" height="2.7"/><rect x="582.6" y="92.2" width="2.7" height="2.7"/><rect x="568.2" y="95.6" width="2.7" height="2.7"/><rect x="484.0" y="103.6" width="2.7" height="2.7"/><rect x="497.5" y="99.2" width="2.7" height="2.7"/><rect x="511.1" y="101.2" width="2.7" height="2.7"/><rect x="516.6" y="104.2" width="2.7" height="2.7"/><rect x="515.4" y="111.0" width="2.7" height="2.7"/><rect x="509.2" y="111.0" width="2.7" height="2.7"/><rect x="500.0" y="112.9" width="2.7" height="2.7"/><rect x="528.9" y="114.5" width="2.7" height="2.7"/><rect x="537.9" y="100.9" width="2.7" height="2.7"/><rect x="536.9" y="110.0" width="2.7" height="2.7"/><rect x="554.2" y="106.7" width="2.7" height="2.7"/><rect x="545.6" y="116.6" width="2.7" height="2.7"/><rect x="545.2" y="119.6" width="2.7" height="2.7"/><rect x="553.9" y="125.2" width="2.7" height="2.7"/><rect x="558.4" y="128.2" width="2.7" height="2.7"/><rect x="511.8" y="119.6" width="2.7" height="2.7"/><rect x="513.9" y="120.9" width="2.7" height="2.7"/><rect x="507.8" y="127.6" width="2.7" height="2.7"/><rect x="522.9" y="128.2" width="2.7" height="2.7"/><rect x="527.1" y="128.0" width="2.7" height="2.7"/><rect x="529.6" y="128.0" width="2.7" height="2.7"/><rect x="536.9" y="130.1" width="2.7" height="2.7"/><rect x="538.9" y="130.5" width="2.7" height="2.7"/><rect x="528.9" y="134.3" width="2.7" height="2.7"/><rect x="521.6" y="98.9" width="2.7" height="2.7"/><rect x="573.6" y="110.6" width="2.7" height="2.7"/><rect x="569.1" y="117.2" width="2.7" height="2.7"/><rect x="572.1" y="122.1" width="2.7" height="2.7"/><rect x="565.8" y="128.8" width="2.7" height="2.7"/><rect x="568.2" y="132.2" width="2.7" height="2.7"/><rect x="567.2" y="135.3" width="2.7" height="2.7"/><rect x="565.8" y="138.1" width="2.7" height="2.7"/><rect x="575.9" y="132.6" width="2.7" height="2.7"/><rect x="578.9" y="134.2" width="2.7" height="2.7"/><rect x="599.2" y="126.4" width="2.7" height="2.7"/><rect x="591.9" y="137.8" width="2.7" height="2.7"/><rect x="532.6" y="143.6" width="2.7" height="2.7"/><rect x="535.8" y="144.2" width="2.7" height="2.7"/><rect x="539.4" y="139.2" width="2.7" height="2.7"/><rect x="549.4" y="139.2" width="2.7" height="2.7"/><rect x="552.4" y="147.2" width="2.7" height="2.7"/><rect x="537.6" y="147.8" width="2.7" height="2.7"/><rect x="549.9" y="154.1" width="2.7" height="2.7"/><rect x="556.4" y="155.8" width="2.7" height="2.7"/><rect x="551.8" y="162.1" width="2.7" height="2.7"/><rect x="556.0" y="160.8" width="2.7" height="2.7"/><rect x="549.9" y="164.6" width="2.7" height="2.7"/><rect x="552.4" y="174.3" width="2.7" height="2.7"/><rect x="576.5" y="142.1" width="2.7" height="2.7"/><rect x="574.6" y="148.2" width="2.7" height="2.7"/><rect x="569.1" y="147.1" width="2.7" height="2.7"/><rect x="567.9" y="154.1" width="2.7" height="2.7"/><rect x="562.4" y="157.3" width="2.7" height="2.7"/><rect x="580.5" y="149.8" width="2.7" height="2.7"/><rect x="597.9" y="140.5" width="2.7" height="2.7"/><rect x="595.4" y="145.8" width="2.7" height="2.7"/><rect x="598.0" y="158.3" width="2.7" height="2.7"/><rect x="603.6" y="161.5" width="2.7" height="2.7"/><rect x="592.5" y="161.5" width="2.7" height="2.7"/><rect x="587.2" y="163.1" width="2.7" height="2.7"/><rect x="582.0" y="160.6" width="2.7" height="2.7"/><rect x="582.0" y="165.2" width="2.7" height="2.7"/><rect x="570.9" y="163.1" width="2.7" height="2.7"/><rect x="593.1" y="168.0" width="2.7" height="2.7"/><rect x="603.6" y="171.0" width="2.7" height="2.7"/><rect x="570.9" y="168.5" width="2.7" height="2.7"/><rect x="579.5" y="172.0" width="2.7" height="2.7"/><rect x="571.9" y="174.3" width="2.7" height="2.7"/><rect x="561.8" y="172.0" width="2.7" height="2.7"/><rect x="562.9" y="176.2" width="2.7" height="2.7"/><rect x="580.2" y="175.3" width="2.7" height="2.7"/><rect x="584.5" y="175.3" width="2.7" height="2.7"/><rect x="593.8" y="175.0" width="2.7" height="2.7"/><rect x="598.0" y="173.2" width="2.7" height="2.7"/><rect x="601.1" y="174.7" width="2.7" height="2.7"/><rect x="595.9" y="177.8" width="2.7" height="2.7"/><rect x="605.2" y="178.3" width="2.7" height="2.7"/><rect x="618.4" y="177.8" width="2.7" height="2.7"/><rect x="562.4" y="183.3" width="2.7" height="2.7"/><rect x="585.1" y="182.1" width="2.7" height="2.7"/><rect x="577.1" y="184.8" width="2.7" height="2.7"/><rect x="581.4" y="187.8" width="2.7" height="2.7"/><rect x="594.0" y="184.6" width="2.7" height="2.7"/><rect x="595.9" y="184.6" width="2.7" height="2.7"/><rect x="595.9" y="179.2" width="2.7" height="2.7"/><rect x="605.9" y="179.2" width="2.7" height="2.7"/><rect x="605.4" y="184.6" width="2.7" height="2.7"/><rect x="588.2" y="191.0" width="2.7" height="2.7"/><rect x="595.6" y="192.0" width="2.7" height="2.7"/><rect x="603.0" y="191.2" width="2.7" height="2.7"/><rect x="598.9" y="200.6" width="2.7" height="2.7"/><rect x="607.9" y="197.8" width="2.7" height="2.7"/><rect x="586.4" y="211.0" width="2.7" height="2.7"/><rect x="592.2" y="214.7" width="2.7" height="2.7"/><rect x="592.5" y="218.3" width="2.7" height="2.7"/><rect x="601.4" y="217.8" width="2.7" height="2.7"/><rect x="612.5" y="180.8" width="2.7" height="2.7"/><rect x="625.9" y="188.2" width="2.7" height="2.7"/><rect x="619.9" y="195.8" width="2.7" height="2.7"/><rect x="624.4" y="214.2" width="2.7" height="2.7"/><rect x="624.0" y="217.8" width="2.7" height="2.7"/><rect x="607.2" y="225.1" width="2.7" height="2.7"/><rect x="623.4" y="239.0" width="2.7" height="2.7"/><rect x="639.4" y="235.8" width="2.7" height="2.7"/><rect x="625.1" y="253.3" width="2.7" height="2.7"/><rect x="639.9" y="257.4" width="2.7" height="2.7"/><rect x="643.0" y="273.8" width="2.7" height="2.7"/></g>
<g fill="none" stroke="#ff0000" stroke-opacity="0.7" stroke-width="0.85"><rect x="496.8" y="68.3" width="4.3" height="4.3"/><rect x="492.2" y="75.0" width="4.3" height="4.3"/><rect x="499.2" y="81.0" width="4.3" height="4.3"/><rect x="490.1" y="85.5" width="4.3" height="4.3"/><rect x="493.5" y="86.4" width="4.3" height="4.3"/><rect x="502.4" y="85.1" width="4.3" height="4.3"/><rect x="504.6" y="85.1" width="4.3" height="4.3"/><rect x="504.2" y="89.2" width="4.3" height="4.3"/><rect x="512.0" y="82.8" width="4.3" height="4.3"/><rect x="509.5" y="90.1" width="4.3" height="4.3"/><rect x="512.5" y="93.5" width="4.3" height="4.3"/><rect x="479.2" y="90.4" width="4.3" height="4.3"/><rect x="483.2" y="92.0" width="4.3" height="4.3"/><rect x="490.1" y="94.5" width="4.3" height="4.3"/><rect x="486.1" y="97.2" width="4.3" height="4.3"/><rect x="495.6" y="96.6" width="4.3" height="4.3"/><rect x="553.1" y="94.8" width="4.3" height="4.3"/><rect x="487.6" y="99.6" width="4.3" height="4.3"/><rect x="492.5" y="99.0" width="4.3" height="4.3"/><rect x="497.5" y="100.3" width="4.3" height="4.3"/><rect x="501.8" y="101.5" width="4.3" height="4.3"/><rect x="504.8" y="100.9" width="4.3" height="4.3"/><rect x="483.2" y="105.8" width="4.3" height="4.3"/><rect x="486.4" y="103.3" width="4.3" height="4.3"/><rect x="490.1" y="102.8" width="4.3" height="4.3"/><rect x="493.8" y="102.1" width="4.3" height="4.3"/><rect x="498.7" y="102.8" width="4.3" height="4.3"/><rect x="502.4" y="104.6" width="4.3" height="4.3"/><rect x="506.1" y="103.3" width="4.3" height="4.3"/><rect x="508.5" y="102.8" width="4.3" height="4.3"/><rect x="486.4" y="109.5" width="4.3" height="4.3"/><rect x="489.5" y="107.0" width="4.3" height="4.3"/><rect x="493.1" y="106.4" width="4.3" height="4.3"/><rect x="496.8" y="106.4" width="4.3" height="4.3"/><rect x="500.5" y="107.8" width="4.3" height="4.3"/><rect x="504.2" y="108.3" width="4.3" height="4.3"/><rect x="507.9" y="108.9" width="4.3" height="4.3"/><rect x="512.1" y="107.0" width="4.3" height="4.3"/><rect x="488.2" y="113.2" width="4.3" height="4.3"/><rect x="492.5" y="112.6" width="4.3" height="4.3"/><rect x="495.6" y="110.8" width="4.3" height="4.3"/><rect x="499.9" y="111.3" width="4.3" height="4.3"/><rect x="504.2" y="112.0" width="4.3" height="4.3"/><rect x="507.2" y="112.6" width="4.3" height="4.3"/><rect x="510.4" y="113.2" width="4.3" height="4.3"/><rect x="514.1" y="111.3" width="4.3" height="4.3"/><rect x="518.4" y="113.6" width="4.3" height="4.3"/><rect x="522.1" y="114.1" width="4.3" height="4.3"/><rect x="493.1" y="119.4" width="4.3" height="4.3"/><rect x="496.8" y="120.0" width="4.3" height="4.3"/><rect x="500.5" y="118.8" width="4.3" height="4.3"/><rect x="504.2" y="117.5" width="4.3" height="4.3"/><rect x="508.5" y="118.1" width="4.3" height="4.3"/><rect x="512.1" y="116.9" width="4.3" height="4.3"/><rect x="516.5" y="116.3" width="4.3" height="4.3"/><rect x="499.9" y="124.3" width="4.3" height="4.3"/><rect x="504.8" y="122.4" width="4.3" height="4.3"/><rect x="508.5" y="123.0" width="4.3" height="4.3"/><rect x="512.1" y="121.8" width="4.3" height="4.3"/><rect x="517.1" y="121.8" width="4.3" height="4.3"/><rect x="522.1" y="120.0" width="4.3" height="4.3"/><rect x="526.4" y="123.0" width="4.3" height="4.3"/><rect x="506.1" y="126.8" width="4.3" height="4.3"/><rect x="509.8" y="127.4" width="4.3" height="4.3"/><rect x="513.5" y="126.8" width="4.3" height="4.3"/><rect x="517.1" y="125.5" width="4.3" height="4.3"/><rect x="520.9" y="126.2" width="4.3" height="4.3"/><rect x="524.6" y="127.4" width="4.3" height="4.3"/><rect x="528.1" y="126.8" width="4.3" height="4.3"/><rect x="507.2" y="131.2" width="4.3" height="4.3"/><rect x="511.6" y="130.4" width="4.3" height="4.3"/><rect x="515.2" y="129.8" width="4.3" height="4.3"/><rect x="519.0" y="130.4" width="4.3" height="4.3"/><rect x="522.6" y="131.2" width="4.3" height="4.3"/><rect x="526.4" y="131.8" width="4.3" height="4.3"/><rect x="530.6" y="131.2" width="4.3" height="4.3"/><rect x="535.0" y="129.2" width="4.3" height="4.3"/><rect x="539.2" y="129.2" width="4.3" height="4.3"/><rect x="541.8" y="130.4" width="4.3" height="4.3"/><rect x="544.2" y="132.3" width="4.3" height="4.3"/><rect x="509.8" y="134.8" width="4.3" height="4.3"/><rect x="514.1" y="134.2" width="4.3" height="4.3"/><rect x="518.4" y="134.8" width="4.3" height="4.3"/><rect x="522.1" y="135.4" width="4.3" height="4.3"/><rect x="525.8" y="134.8" width="4.3" height="4.3"/><rect x="529.5" y="134.2" width="4.3" height="4.3"/><rect x="533.1" y="136.0" width="4.3" height="4.3"/><rect x="519.6" y="102.1" width="4.3" height="4.3"/><rect x="528.9" y="115.0" width="4.3" height="4.3"/><rect x="531.6" y="116.3" width="4.3" height="4.3"/><rect x="538.1" y="113.8" width="4.3" height="4.3"/><rect x="540.6" y="110.1" width="4.3" height="4.3"/><rect x="541.5" y="120.0" width="4.3" height="4.3"/><rect x="552.9" y="131.8" width="4.3" height="4.3"/><rect x="549.8" y="134.2" width="4.3" height="4.3"/><rect x="516.5" y="136.7" width="4.3" height="4.3"/><rect x="520.9" y="137.2" width="4.3" height="4.3"/><rect x="524.6" y="137.2" width="4.3" height="4.3"/><rect x="544.2" y="137.0" width="4.3" height="4.3"/><rect x="575.4" y="117.3" width="4.3" height="4.3"/><rect x="511.6" y="143.0" width="4.3" height="4.3"/><rect x="525.1" y="140.0" width="4.3" height="4.3"/><rect x="530.1" y="139.3" width="4.3" height="4.3"/><rect x="534.4" y="140.3" width="4.3" height="4.3"/><rect x="539.9" y="140.9" width="4.3" height="4.3"/><rect x="543.6" y="140.0" width="4.3" height="4.3"/><rect x="547.9" y="142.8" width="4.3" height="4.3"/><rect x="552.2" y="142.2" width="4.3" height="4.3"/><rect x="519.6" y="148.3" width="4.3" height="4.3"/><rect x="523.9" y="146.4" width="4.3" height="4.3"/><rect x="527.6" y="148.3" width="4.3" height="4.3"/><rect x="530.6" y="145.8" width="4.3" height="4.3"/><rect x="535.0" y="144.7" width="4.3" height="4.3"/><rect x="538.6" y="147.8" width="4.3" height="4.3"/><rect x="543.0" y="146.4" width="4.3" height="4.3"/><rect x="546.6" y="148.3" width="4.3" height="4.3"/><rect x="523.9" y="156.0" width="4.3" height="4.3"/><rect x="535.0" y="151.3" width="4.3" height="4.3"/><rect x="539.2" y="153.2" width="4.3" height="4.3"/><rect x="543.6" y="152.0" width="4.3" height="4.3"/><rect x="544.9" y="154.4" width="4.3" height="4.3"/><rect x="549.1" y="150.2" width="4.3" height="4.3"/><rect x="552.2" y="151.3" width="4.3" height="4.3"/><rect x="536.1" y="157.5" width="4.3" height="4.3"/><rect x="541.8" y="159.4" width="4.3" height="4.3"/><rect x="546.6" y="160.0" width="4.3" height="4.3"/><rect x="552.2" y="159.4" width="4.3" height="4.3"/><rect x="556.0" y="160.7" width="4.3" height="4.3"/><rect x="536.9" y="161.2" width="4.3" height="4.3"/><rect x="543.0" y="161.8" width="4.3" height="4.3"/><rect x="541.8" y="166.4" width="4.3" height="4.3"/><rect x="546.6" y="167.2" width="4.3" height="4.3"/><rect x="552.2" y="165.9" width="4.3" height="4.3"/><rect x="556.0" y="164.9" width="4.3" height="4.3"/><rect x="556.6" y="168.0" width="4.3" height="4.3"/><rect x="551.6" y="173.8" width="4.3" height="4.3"/><rect x="556.0" y="174.5" width="4.3" height="4.3"/><rect x="565.9" y="144.9" width="4.3" height="4.3"/><rect x="569.6" y="143.0" width="4.3" height="4.3"/><rect x="559.6" y="147.0" width="4.3" height="4.3"/><rect x="561.0" y="148.9" width="4.3" height="4.3"/><rect x="561.6" y="152.7" width="4.3" height="4.3"/><rect x="582.2" y="151.2" width="4.3" height="4.3"/><rect x="562.8" y="159.8" width="4.3" height="4.3"/><rect x="563.4" y="163.0" width="4.3" height="4.3"/><rect x="566.8" y="162.4" width="4.3" height="4.3"/><rect x="559.1" y="164.3" width="4.3" height="4.3"/><rect x="574.5" y="165.5" width="4.3" height="4.3"/><rect x="578.1" y="164.3" width="4.3" height="4.3"/><rect x="573.9" y="168.7" width="4.3" height="4.3"/><rect x="564.6" y="171.3" width="4.3" height="4.3"/><rect x="568.4" y="169.8" width="4.3" height="4.3"/><rect x="571.4" y="170.4" width="4.3" height="4.3"/><rect x="575.1" y="173.8" width="4.3" height="4.3"/><rect x="575.1" y="176.7" width="4.3" height="4.3"/><rect x="553.6" y="181.2" width="4.3" height="4.3"/><rect x="557.9" y="179.7" width="4.3" height="4.3"/><rect x="561.6" y="180.3" width="4.3" height="4.3"/><rect x="565.9" y="182.2" width="4.3" height="4.3"/><rect x="570.1" y="180.9" width="4.3" height="4.3"/><rect x="575.1" y="179.0" width="4.3" height="4.3"/><rect x="561.0" y="186.4" width="4.3" height="4.3"/><rect x="564.6" y="187.0" width="4.3" height="4.3"/><rect x="567.8" y="186.4" width="4.3" height="4.3"/><rect x="570.9" y="187.8" width="4.3" height="4.3"/><rect x="568.4" y="192.0" width="4.3" height="4.3"/><rect x="573.2" y="191.3" width="4.3" height="4.3"/><rect x="574.6" y="196.9" width="4.3" height="4.3"/><rect x="578.1" y="182.8" width="4.3" height="4.3"/><rect x="583.8" y="185.4" width="4.3" height="4.3"/><rect x="589.2" y="182.2" width="4.3" height="4.3"/><rect x="588.6" y="186.4" width="4.3" height="4.3"/><rect x="593.0" y="188.9" width="4.3" height="4.3"/><rect x="586.1" y="192.0" width="4.3" height="4.3"/><rect x="591.1" y="193.2" width="4.3" height="4.3"/><rect x="591.8" y="197.5" width="4.3" height="4.3"/><rect x="596.1" y="196.3" width="4.3" height="4.3"/><rect x="584.4" y="199.0" width="4.3" height="4.3"/><rect x="600.4" y="190.2" width="4.3" height="4.3"/><rect x="604.1" y="187.0" width="4.3" height="4.3"/><rect x="580.5" y="208.8" width="4.3" height="4.3"/><rect x="585.4" y="208.3" width="4.3" height="4.3"/><rect x="587.9" y="214.8" width="4.3" height="4.3"/><rect x="600.1" y="215.8" width="4.3" height="4.3"/><rect x="607.1" y="204.3" width="4.3" height="4.3"/><rect x="619.6" y="215.4" width="4.3" height="4.3"/><rect x="604.1" y="227.0" width="4.3" height="4.3"/><rect x="619.1" y="224.7" width="4.3" height="4.3"/><rect x="620.1" y="227.0" width="4.3" height="4.3"/><rect x="631.5" y="236.5" width="4.3" height="4.3"/><rect x="623.1" y="243.0" width="4.3" height="4.3"/><rect x="626.6" y="242.2" width="4.3" height="4.3"/><rect x="626.1" y="248.0" width="4.3" height="4.3"/><rect x="621.9" y="250.2" width="4.3" height="4.3"/><rect x="644.4" y="244.3" width="4.3" height="4.3"/><rect x="635.2" y="263.2" width="4.3" height="4.3"/><rect x="636.9" y="267.0" width="4.3" height="4.3"/><rect x="654.1" y="270.2" width="4.3" height="4.3"/><rect x="496.9" y="108.3" width="4.3" height="4.3"/><rect x="511.6" y="106.3" width="4.3" height="4.3"/><rect x="498.6" y="108.9" width="4.3" height="4.3"/><rect x="488.6" y="107.3" width="4.3" height="4.3"/><rect x="502.4" y="113.3" width="4.3" height="4.3"/><rect x="485.8" y="102.8" width="4.3" height="4.3"/><rect x="485.7" y="113.8" width="4.3" height="4.3"/><rect x="504.4" y="97.2" width="4.3" height="4.3"/><rect x="528.9" y="135.4" width="4.3" height="4.3"/><rect x="518.8" y="126.9" width="4.3" height="4.3"/><rect x="503.5" y="112.2" width="4.3" height="4.3"/><rect x="514.9" y="113.3" width="4.3" height="4.3"/><rect x="504.5" y="117.8" width="4.3" height="4.3"/><rect x="499.6" y="123.2" width="4.3" height="4.3"/><rect x="512.1" y="132.4" width="4.3" height="4.3"/><rect x="514.6" y="127.5" width="4.3" height="4.3"/><rect x="530.9" y="141.4" width="4.3" height="4.3"/><rect x="529.4" y="132.9" width="4.3" height="4.3"/><rect x="547.8" y="148.8" width="4.3" height="4.3"/><rect x="542.5" y="142.4" width="4.3" height="4.3"/><rect x="524.6" y="131.9" width="4.3" height="4.3"/><rect x="523.6" y="128.3" width="4.3" height="4.3"/></g>
</svg></body></html>
